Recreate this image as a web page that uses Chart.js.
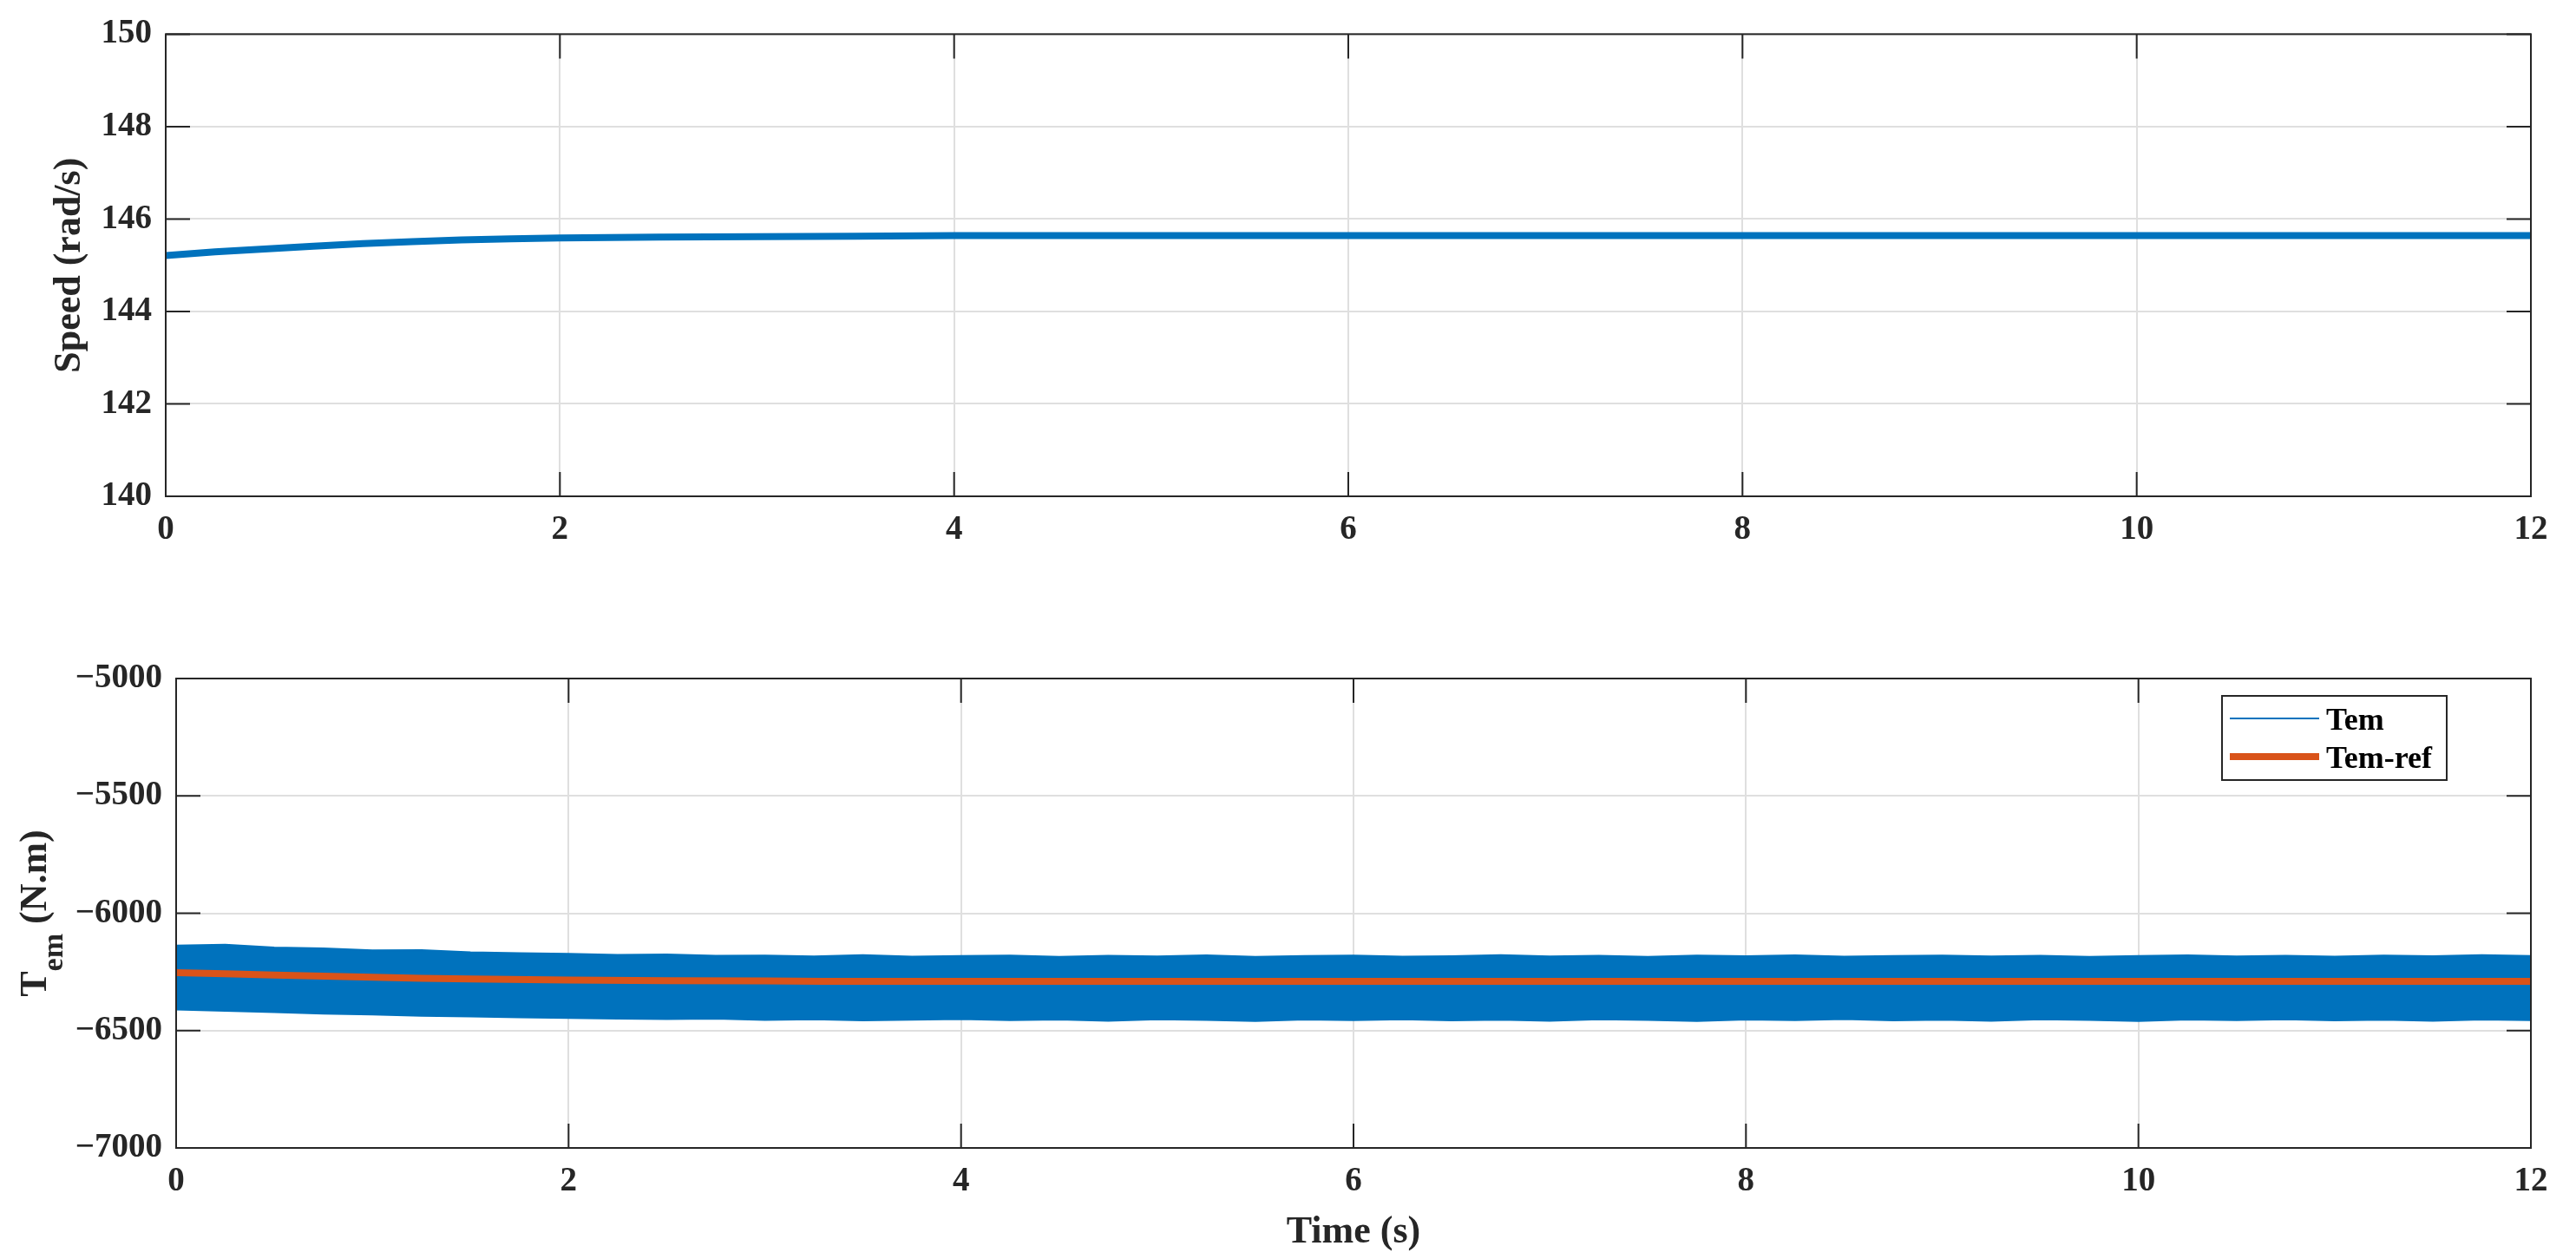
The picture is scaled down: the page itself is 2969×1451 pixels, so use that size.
<!DOCTYPE html>
<html>
<head>
<meta charset="utf-8">
<title>Speed and torque</title>
<script src="https://cdn.jsdelivr.net/npm/chart.js@4.4.1/dist/chart.umd.min.js"></script>
<style>
  html, body { margin: 0; padding: 0; background: #fff; overflow: hidden; }
  #wrap { position: relative; width: 2969px; height: 1451px; }
  canvas { position: absolute; left: 0; }
  #speedChart { top: 0; }
  #torqueChart { top: 700px; }
</style>
</head>
<body>
<div id="wrap">
  <canvas id="speedChart" width="2969" height="700"></canvas>
  <canvas id="torqueChart" width="2969" height="751"></canvas>
</div>
<script>
// tick labels
const timeTicks = [0, 2, 4, 6, 8, 10, 12];
const speedTicks = [140, 142, 144, 146, 148, 150];
const torqueTicks = [-7000, -6500, -6000, -5500, -5000];

// rotor speed (rad/s)
const speedTime = [0, 0.25, 0.5, 0.75, 1, 1.25, 1.5, 1.75, 2, 2.5, 3, 3.5, 4, 6, 8, 10, 12];
const speed = [145.21, 145.29, 145.35, 145.41, 145.47, 145.51, 145.55, 145.57, 145.59, 145.61, 145.62, 145.63, 145.64, 145.64, 145.64, 145.64, 145.64];

// Tem ripple band, upper and lower edge
const temTime = [0, 0.25, 0.5, 0.75, 1, 1.25, 1.5, 1.75, 2, 2.25, 2.5, 2.75, 3, 3.25, 3.5, 3.75,
  4, 4.25, 4.5, 4.75, 5, 5.25, 5.5, 5.75, 6, 6.25, 6.5, 6.75, 7, 7.25, 7.5, 7.75,
  8, 8.25, 8.5, 8.75, 9, 9.25, 9.5, 9.75, 10, 10.25, 10.5, 10.75, 11, 11.25, 11.5, 11.75, 12];
const temUpper = [-6138, -6134, -6146, -6150, -6158, -6157, -6166, -6170, -6173, -6177,
  -6176, -6181, -6180, -6184, -6178, -6185, -6182, -6180, -6186, -6181,
  -6184, -6179, -6186, -6182, -6180, -6185, -6183, -6178, -6184, -6181,
  -6186, -6180, -6183, -6179, -6185, -6182, -6180, -6184, -6181, -6186,
  -6182, -6179, -6184, -6181, -6185, -6180, -6183, -6178, -6182];
const temLower = [-6410, -6416, -6421, -6428, -6432, -6437, -6440, -6444, -6446, -6449,
  -6451, -6449, -6455, -6452, -6457, -6454, -6451, -6456, -6453, -6458,
  -6452, -6455, -6459, -6453, -6456, -6452, -6457, -6454, -6458, -6452,
  -6455, -6459, -6453, -6456, -6451, -6457, -6454, -6458, -6452, -6455,
  -6459, -6453, -6456, -6452, -6457, -6454, -6458, -6453, -6456];

// torque reference
const refTime = [0, 0.25, 0.5, 0.75, 1, 1.25, 1.5, 2, 2.5, 3, 3.3, 12];
const temRef = [-6253, -6258, -6263, -6268, -6273, -6277, -6280, -6285, -6287, -6288, -6290, -6290];

const legendLabels = ['Tem', 'Tem-ref'];

const blue = '#0072BD';
const red = '#D95319';
const ink = '#262626';
const gridGrey = '#dfdfdf';
const serif = '"Liberation Serif", "Times New Roman", serif';

Chart.defaults.font.family = serif;
Chart.defaults.font.weight = 'bold';
Chart.defaults.color = ink;

function pts(xs, ys) {
  return xs.map((x, i) => ({ x: x, y: ys[i] }));
}

function fmt(v) {
  return v < 0 ? '\u2212' + Math.abs(v) : String(v);
}

// box round the axes with inward tick marks, like matlab
const boxPlugin = {
  id: 'boxPlugin',
  afterDatasetsDraw(chart) {
    const a = chart.chartArea;
    const ctx = chart.ctx;
    const tl = 28;
    const xs = chart.scales.x, ys = chart.scales.y;
    ctx.save();
    ctx.strokeStyle = ink;
    ctx.lineWidth = 2;
    ctx.beginPath();
    xs.ticks.forEach(t => {
      const px = xs.getPixelForValue(t.value);
      ctx.moveTo(px, a.bottom); ctx.lineTo(px, a.bottom - tl);
      ctx.moveTo(px, a.top); ctx.lineTo(px, a.top + tl);
    });
    ys.ticks.forEach(t => {
      const py = ys.getPixelForValue(t.value);
      ctx.moveTo(a.left, py); ctx.lineTo(a.left + tl, py);
      ctx.moveTo(a.right, py); ctx.lineTo(a.right - tl, py);
    });
    ctx.stroke();
    ctx.strokeRect(a.left, a.top, a.right - a.left, a.bottom - a.top);
    ctx.restore();
  }
};

function drawVerticalTitle(ctx, parts, baseX, centerY) {
  let total = 0;
  parts.forEach(p => {
    ctx.font = 'bold ' + p.size + 'px ' + serif;
    total += ctx.measureText(p.text).width;
  });
  ctx.save();
  ctx.translate(baseX, centerY);
  ctx.rotate(-Math.PI / 2);
  ctx.fillStyle = ink;
  ctx.textBaseline = 'alphabetic';
  let x = -total / 2;
  parts.forEach(p => {
    ctx.font = 'bold ' + p.size + 'px ' + serif;
    ctx.fillText(p.text, x, p.shift);
    x += ctx.measureText(p.text).width;
  });
  ctx.restore();
}

function axisOptions(yTicks, yWidth) {
  return {
    x: {
      type: 'linear',
      min: 0,
      max: 12,
      afterBuildTicks: s => { s.ticks = timeTicks.map(v => ({ value: v })); },
      afterFit: s => { s.height = 128; },
      grid: { color: gridGrey, lineWidth: 2, drawTicks: false },
      border: { display: false },
      ticks: { padding: 16, font: { size: 39 }, color: ink, maxRotation: 0, callback: fmt }
    },
    y: {
      min: yTicks[0],
      max: yTicks[yTicks.length - 1],
      afterBuildTicks: s => { s.ticks = yTicks.map(v => ({ value: v })); },
      afterFit: s => { s.width = yWidth; },
      grid: { color: gridGrey, lineWidth: 2, drawTicks: false },
      border: { display: false },
      ticks: { padding: 16, font: { size: 39 }, color: ink, callback: fmt }
    }
  };
}

new Chart(document.getElementById('speedChart').getContext('2d'), {
  type: 'line',
  data: {
    datasets: [{
      label: 'Speed',
      data: pts(speedTime, speed),
      borderColor: blue,
      borderWidth: 8,
      pointRadius: 0,
      tension: 0,
      clip: 0
    }]
  },
  options: {
    responsive: false,
    animation: false,
    layout: { padding: { top: 32, right: 52, bottom: 0, left: 0 } },
    plugins: { legend: { display: false }, tooltip: { enabled: false } },
    scales: axisOptions(speedTicks, 191)
  },
  plugins: [boxPlugin, {
    id: 'speedTitle',
    afterDraw(chart) {
      const a = chart.chartArea;
      drawVerticalTitle(chart.ctx, [{ text: 'Speed (rad/s)', size: 44, shift: 0 }], 92, (a.top + a.bottom) / 2);
    }
  }]
});

new Chart(document.getElementById('torqueChart').getContext('2d'), {
  type: 'line',
  data: {
    datasets: [
      { label: 'Tem-ref', data: pts(refTime, temRef), borderColor: red, borderWidth: 8, pointRadius: 0, tension: 0, order: 0, clip: 0 },
      { label: 'Tem', data: pts(temTime, temUpper), borderColor: blue, backgroundColor: blue, borderWidth: 2, pointRadius: 0, tension: 0, fill: '+1', order: 1, clip: 0 },
      { label: 'Tem lower', data: pts(temTime, temLower), borderColor: blue, borderWidth: 2, pointRadius: 0, tension: 0, fill: false, order: 1, clip: 0 }
    ]
  },
  options: {
    responsive: false,
    animation: false,
    layout: { padding: { top: 82, right: 52, bottom: 0, left: 0 } },
    plugins: { legend: { display: false }, tooltip: { enabled: false } },
    scales: axisOptions(torqueTicks, 203)
  },
  plugins: [boxPlugin, {
    id: 'torqueText',
    afterDraw(chart) {
      const a = chart.chartArea;
      const ctx = chart.ctx;
      drawVerticalTitle(ctx, [
        { text: 'T', size: 44, shift: 0 },
        { text: 'em', size: 34, shift: 19 },
        { text: ' (N.m)', size: 44, shift: 0 }
      ], 53, (a.top + a.bottom) / 2);

      ctx.save();
      ctx.fillStyle = ink;
      ctx.font = 'bold 44px ' + serif;
      ctx.textAlign = 'center';
      ctx.textBaseline = 'alphabetic';
      ctx.fillText('Time (s)', (a.left + a.right) / 2, 732);

      // legend box in the upper right
      const bx = a.right - 356, by = a.top + 20, bw = 259, bh = 97;
      ctx.fillStyle = '#fff';
      ctx.fillRect(bx, by, bw, bh);
      ctx.strokeStyle = ink;
      ctx.lineWidth = 2;
      ctx.strokeRect(bx, by, bw, bh);
      ctx.font = 'bold 36px ' + serif;
      ctx.textAlign = 'left';
      legendLabels.forEach((name, i) => {
        const ds = chart.data.datasets.find(d => d.label === name);
        const ly = by + 26 + i * 44;
        ctx.strokeStyle = ds.borderColor;
        ctx.lineWidth = ds.borderWidth;
        ctx.beginPath();
        ctx.moveTo(bx + 9, ly);
        ctx.lineTo(bx + 112, ly);
        ctx.stroke();
        ctx.fillStyle = '#000';
        ctx.fillText(name, bx + 120, ly + 13);
      });
      ctx.restore();
    }
  }]
});
</script>
</body>
</html>
